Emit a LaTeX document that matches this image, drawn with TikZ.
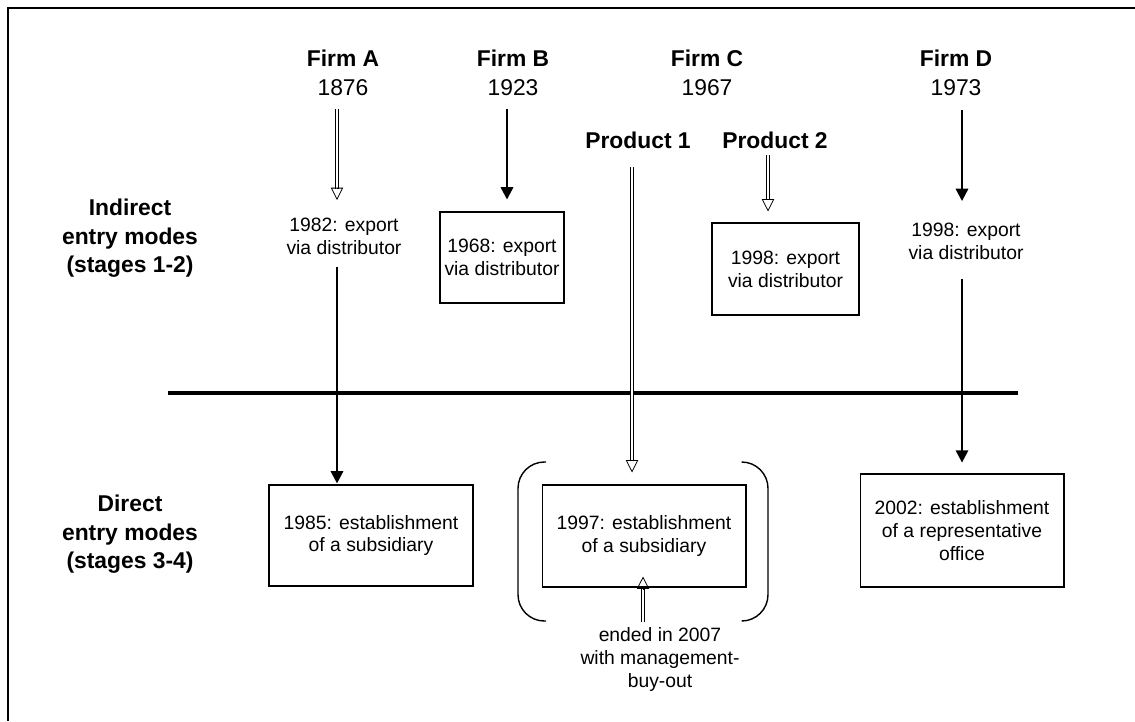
\documentclass[tikz,border=0pt]{standalone}
\usepackage{fontspec}
\setmainfont{Liberation Sans}
\usetikzlibrary{arrows.meta,calc}
\newcommand{\hollowarrow}[2]{%
  \draw[hollow shaft, shorten >=6.5pt] (#1) -- (#2);
  \draw[hollow head] ($(#2)!7pt!(#1)$) -- (#2);
}
\begin{document}
\begin{tikzpicture}[x=0.02cm, y=-0.02cm,
                    firm/.style={font=\fontsize{13}{16}\selectfont, align=center,
                                 inner sep=0pt, anchor=north},
                    side/.style={firm, font=\bfseries\fontsize{13}{16}\selectfont},
                    note/.style={font=\fontsize{11}{13}\selectfont, align=center,
                                 inner sep=0pt, anchor=north},
                    entrybox/.style={draw, line width=0.6pt, inner sep=0pt,
                                     font=\fontsize{11}{13}\selectfont, align=center},
                    thickarrow/.style={line width=1.3pt, -{Triangle[length=7pt, width=7pt]}},
                    hollow shaft/.style={draw, double, double distance=1.6pt, line width=0.45pt},
                    hollow head/.style={line width=0.45pt, -{Triangle[open, length=7pt, width=7pt]}},
                    divider/.style={line width=2.3pt}]
    \useasboundingbox (0,0) rectangle (1135,721);
    \draw[line width=0.9pt] (1135,8) -- (8,8) -- (8,721);

    \node[side] (indirect) at (130,199) {Indirect\\entry modes\\(stages 1-2)};
    \node[side] (direct) at (130,495) {Direct\\entry modes\\(stages 3-4)};

    \node[firm] (firmA) at (343,50) {\textbf{Firm A}\\1876};
    \node[firm] (firmB) at (513,50) {\textbf{Firm B}\\1923};
    \node[firm] (firmC) at (707,50) {\textbf{Firm C}\\1967};
    \node[firm] (firmD) at (956,50) {\textbf{Firm D}\\1973};
    \node[firm, font=\bfseries\fontsize{13}{16}\selectfont] (prodA) at (638,132) {Product 1};
    \node[firm, font=\bfseries\fontsize{13}{16}\selectfont] (prodB) at (775,132) {Product 2};

    \node[note] (expA) at (344,218) {1982: export\\via distributor};
    \node[note] (expD) at (966,223) {1998: export\\via distributor};
    \node[entrybox, minimum width=2.48cm, minimum height=1.82cm] (boxB) at (502,257.5)
        {1968: export\\via distributor};
    \node[entrybox, minimum width=2.94cm, minimum height=1.84cm] (boxC) at (785.5,269)
        {1998: export\\via distributor};

    \node[entrybox, minimum width=4.08cm, minimum height=2.02cm] (boxA) at (371,535.5)
        {1985: establishment\\of a subsidiary};
    \node[entrybox, minimum width=4.08cm, minimum height=2.04cm] (boxS) at (644,536)
        {1997: establishment\\of a subsidiary};
    \node[entrybox, minimum width=4.08cm, minimum height=2.26cm] (boxR) at (962,530.5)
        {2002: establishment\\of a representative\\office};
    \node[note] (mbo) at (660,627) {ended in 2007\\with management-\\buy-out};

    \draw[line width=0.8pt, rounded corners=15pt] (546,462) -- (518,462) -- (518,621) -- (546,621);
    \draw[line width=0.8pt, rounded corners=15pt] (742,462) -- (768,462) -- (768,621) -- (742,621);

    \draw[divider] (168,393) -- (1018,393);

    \coordinate (colA) at (337,0);
    \coordinate (colB) at (507,0);
    \coordinate (colP1) at (632,0);
    \coordinate (colP2) at (768,0);
    \coordinate (colD) at (962,0);
    \coordinate (colU) at (643,0);

    \coordinate (hA1) at ($(firmA.south -| colA)+(0,13.4)$);
    \coordinate (hA2) at ($(expA.north -| colA)+(0,-18)$);
    \coordinate (hP1) at ($(prodA.south -| colP1)+(0,17.6)$);
    \coordinate (hP2) at ($(boxS.north -| colP1)+(0,-12)$);
    \coordinate (hQ1) at ($(prodB.south -| colP2)+(0,5.6)$);
    \coordinate (hQ2) at ($(boxC.north -| colP2)+(0,-11)$);
    \coordinate (hU1) at ($(mbo.north -| colU)+(0,-5)$);
    \coordinate (hU2) at ($(boxS.south -| colU)+(0,-11)$);

    \hollowarrow{hA1}{hA2}
    \hollowarrow{hP1}{hP2}
    \hollowarrow{hQ1}{hQ2}
    \hollowarrow{hU1}{hU2}

    \draw[thickarrow, shorten <=7.6pt, shorten >=6.8pt] (firmB.south -| colB) -- (boxB.north -| colB);
    \draw[thickarrow, shorten <=8.2pt, shorten >=12.5pt] (firmD.south -| colD) -- (expD.north -| colD);
    \draw[thickarrow, shorten <=6.8pt, shorten >=0.6pt] (expA.south -| colA) -- (boxA.north -| colA);
    \draw[thickarrow, shorten <=10.8pt, shorten >=6.2pt] (expD.south -| colD) -- (boxR.north -| colD);
\end{tikzpicture}
\end{document}
